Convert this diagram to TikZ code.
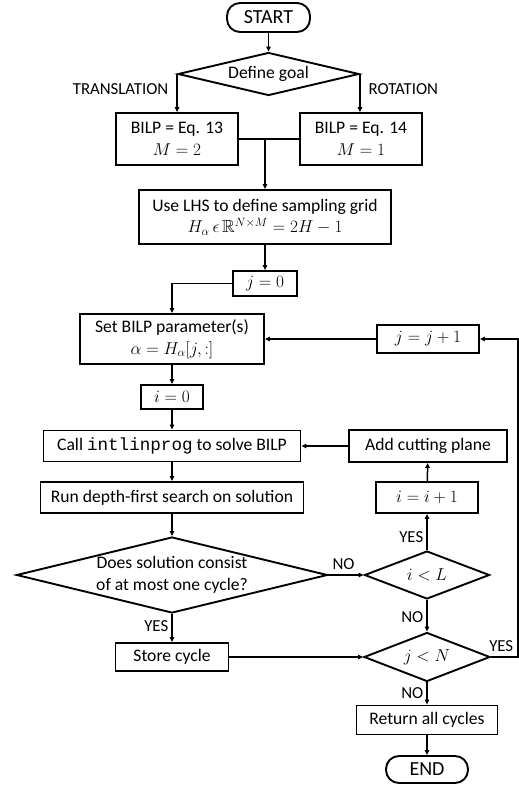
\documentclass[tikz,border=0pt]{standalone}
\usepackage{amsmath, amssymb}
\usepackage{fontspec}
\setmainfont{Carlito}
\setmonofont{Liberation Mono}
\usetikzlibrary{arrows.meta,shapes.geometric,calc}

\tikzset{
  box/.style={draw, rectangle, line width=1.9pt, align=center, inner sep=2pt},
  term/.style={draw, line width=1.9pt, rounded corners=13pt, font=\fontsize{20}{24}\selectfont},
  dec/.style={draw, diamond, line width=1.9pt, inner sep=0pt},
  arr/.style={line width=1.5pt, -{Triangle[length=5pt,width=4.5pt]}},
  lab/.style={font=\fontsize{16.8}{20}\selectfont, inner sep=3pt}
}

\begin{document}
\fontsize{17.6}{21.5}\selectfont
\begin{tikzpicture}[x=1pt,y=-1pt]
    \useasboundingbox (0,0) rectangle (519,785);

    % left column
    \node[term, minimum width=83pt, minimum height=29pt] (start) at (268.5,17.5) {START};
    \node[dec, minimum width=181pt, minimum height=43pt, label=center:{Define goal}] (goal) at (268.5,74) {};
    \node[box, minimum width=122pt, minimum height=52pt] (trans) at (177,139) {BILP = Eq. 13\\$M=2$};
    \node[box, minimum width=122pt, minimum height=52pt] (rot) at (361,139) {BILP = Eq. 14\\$M=1$};
    \node[box, minimum width=252pt, minimum height=54pt] (lhs) at (265,217) {Use LHS to define sampling grid\\$H_\alpha\,\epsilon\,\mathbb{R}^{N\times M}=2H-1$};
    \node[box, minimum width=64pt, minimum height=25pt] (jzero) at (265,283.5) {$j=0$};
    \node[box, minimum width=184pt, minimum height=50pt] (setpar) at (172,339) {Set BILP parameter(s)\\$\alpha=H_\alpha[j,:]$};
    \node[box, minimum width=62pt, minimum height=24pt] (izero) at (172,397) {$i=0$};
    \node[box, minimum width=257pt, minimum height=31pt] (call) at (172,446) {Call \texttt{intlinprog} to solve BILP};
    \node[box, minimum width=263pt, minimum height=31pt] (dfs) at (172,497.5) {Run depth-first search on solution};
    \node[dec, minimum width=311pt, minimum height=76pt, label={[align=center]center:Does solution consist\\of at most one cycle?}] (check) at (172,575) {};
    \node[box, minimum width=113pt, minimum height=28pt] (store) at (172,657) {Store cycle};

    % right column
    \node[box, minimum width=102pt, minimum height=28pt] (jinc) at (428,339) {$j=j+1$};
    \node[box, minimum width=158pt, minimum height=32pt] (cut) at (428,446) {Add cutting plane};
    \node[box, minimum width=102pt, minimum height=31pt] (iinc) at (427,497.5) {$i=i+1$};
    \node[dec, minimum width=125pt, minimum height=48pt, label=center:{$i<L$}] (ilt) at (427,575) {};
    \node[dec, minimum width=126pt, minimum height=49pt, label=center:{$j<N$}] (jlt) at (427,657) {};
    \node[box, minimum width=141pt, minimum height=29pt] (ret) at (427,720) {Return all cycles};
    \node[term, minimum width=82pt, minimum height=27pt] (stop) at (427,769.5) {END};
    \coordinate (rside) at (518,0);

    \draw[arr] (start) -- (goal);
    \draw[arr] (goal.west) -- node[lab, left, pos=0.41, xshift=-5pt]{TRANSLATION} (goal.west |- trans.north);
    \draw[arr] (goal.east) -- node[lab, right, pos=0.41, xshift=5pt]{ROTATION} (goal.east |- rot.north);
    \draw[line width=1.5pt] (trans.east) -- (rot.west);
    \draw[arr] (lhs.north |- trans.east) -- (lhs.north);
    \draw[arr] (lhs) -- (jzero);
    \draw[arr] (jzero.west) -| (setpar.north);
    \draw[arr] (setpar) -- (izero);
    \draw[arr] (izero) -- (call);
    \draw[arr] (call) -- (dfs);
    \draw[arr] (dfs) -- (check);
    \draw[arr] (check.east) -- node[lab, above, pos=0.43, inner sep=5pt]{NO} (ilt.west);
    \draw[arr] (ilt) -- node[lab, left, pos=0.37]{YES} (iinc);
    \draw[arr] (iinc) -- (cut);
    \draw[arr] (cut) -- (call);
    \draw[arr] (ilt) -- node[lab, left, pos=0.53]{NO} (jlt);
    \draw[arr] (check.south) -- node[lab, left, pos=0.43]{YES} (store);
    \draw[arr] (store) -- (jlt.west);
    \draw[arr] (jlt.east) -- node[lab, above, pos=0.38, inner sep=5pt]{YES} (jlt.east -| rside) |- (jinc.east);
    \draw[arr] (jinc) -- (setpar);
    \draw[arr] (jlt) -- node[lab, left, pos=0.5]{NO} (ret);
    \draw[arr] (ret) -- (stop);
\end{tikzpicture}
\end{document}
